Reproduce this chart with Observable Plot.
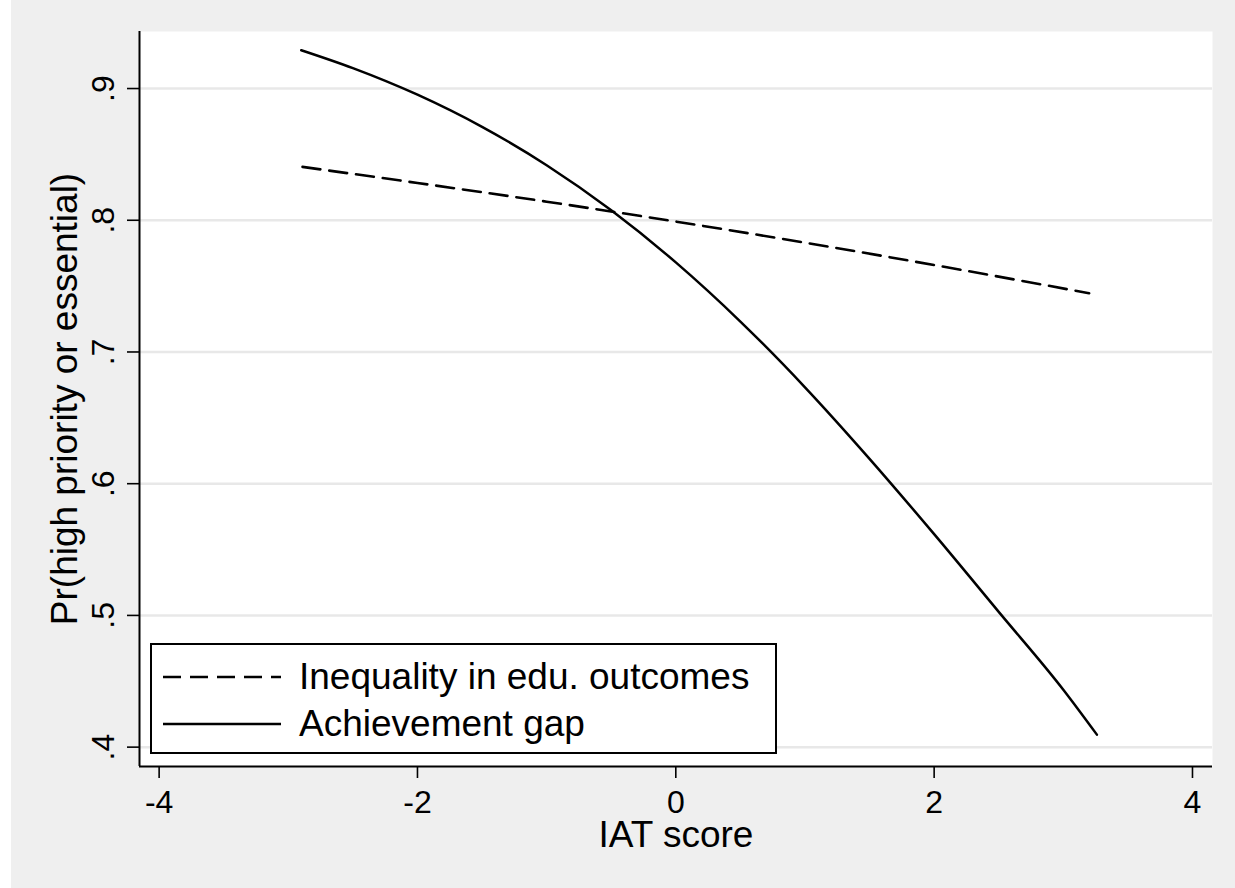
<!DOCTYPE html>
<html>
<head>
<meta charset="utf-8">
<script src="https://cdn.jsdelivr.net/npm/d3@7"></script>
<script src="https://cdn.jsdelivr.net/npm/@observablehq/plot@0.6"></script>
<style>
  html, body { margin: 0; padding: 0; background: #ffffff; }
  #wrap { position: relative; width: 1235px; height: 888px; font-family: "Liberation Sans", Arial, sans-serif; }
  #chart { position: absolute; left: 11px; top: 0; }
  #legend { position: absolute; left: 150px; top: 643px; width: 623px; height: 107px;
            border: 2px solid #000; background: #fff; }
  .row { position: absolute; left: 11px; height: 44px; display: flex; align-items: center; white-space: nowrap; }
  .row svg { width: 118px; height: 10px; margin-right: 18px; }
  .row span { font-size: 37px; color: #000; line-height: 44px; }
</style>
</head>
<body>
<div id="wrap">
  <div id="chart"></div>
  <div id="legend"></div>
</div>
<script>
// ---- data ----
const seriesNames = ["Inequality in edu. outcomes", "Achievement gap"];
const inequalityX = [-2.89, -2, -1, 0, 1, 2, 3.2];
const inequalityY = [0.8405, 0.8283, 0.8141, 0.7990, 0.7830, 0.7660, 0.7446];
const gapX = [-2.9, -2.5, -2, -1.5, -1, -0.5, 0, 0.5, 1, 1.5, 2, 2.5, 3, 3.26];
const gapY = [0.9291, 0.9155, 0.8953, 0.8709, 0.8418, 0.8076, 0.7680, 0.7231, 0.6732, 0.6189, 0.5617, 0.5027, 0.4436, 0.4095];
const xTicks = [-4, -2, 0, 2, 4];
const yTicks = [0.4, 0.5, 0.6, 0.7, 0.8, 0.9];
const xTitle = "IAT score";
const yTitle = "Pr(high priority or essential)";
const xDomain = [-4.152, 4.155];
const yDomain = [0.3853, 0.9433];

const ineqData = inequalityX.map((x, i) => ({x, y: inequalityY[i]}));
const gapData = gapX.map((x, i) => ({x, y: gapY[i]}));
const yFmt = d => d.toFixed(1).replace(/^0/, "");
const font = "Liberation Sans, Arial, sans-serif";

const chart = Plot.plot({
  width: 1224,
  height: 888,
  marginLeft: 128,
  marginRight: 23,
  marginTop: 31,
  marginBottom: 122,
  style: { background: "#efefef", fontFamily: font, color: "#000" },
  x: { domain: xDomain, axis: null },
  y: { domain: yDomain, axis: null },
  marks: [
    Plot.frame({ fill: "#ffffff", stroke: "none" }),
    Plot.ruleY(yTicks, { stroke: "#e8e8e8", strokeWidth: 2.5 }),
    Plot.axisX(xTicks, { tickSize: 12, tickFormat: () => "", stroke: "#000", strokeWidth: 1.6, label: null }),
    Plot.axisY(yTicks, { tickSize: 12, tickFormat: () => "", stroke: "#000", strokeWidth: 1.6, label: null }),
    Plot.text(xTicks, { x: d => d, frameAnchor: "bottom", dy: 36, text: d => String(d), fontSize: 32, fill: "#000", lineAnchor: "middle", textAnchor: "middle" }),
    Plot.text(yTicks, { y: d => d, frameAnchor: "left", dx: -36, rotate: -90, text: yFmt, fontSize: 32, fill: "#000", lineAnchor: "middle", textAnchor: "middle" }),
    Plot.text([xTitle], { frameAnchor: "bottom", dy: 69, text: d => d, fontSize: 37, fill: "#000", lineAnchor: "middle", textAnchor: "middle" }),
    Plot.text([yTitle], { frameAnchor: "left", dx: -74, rotate: -90, text: d => d, fontSize: 37, fill: "#000", lineAnchor: "middle", textAnchor: "middle" }),
    Plot.line(ineqData, { x: "x", y: "y", stroke: "#000", strokeWidth: 2.6, strokeDasharray: "18,9", curve: "monotone-x" }),
    Plot.line(gapData, { x: "x", y: "y", stroke: "#000", strokeWidth: 2.5, curve: "monotone-x" }),
    Plot.ruleX([xDomain[0]], { stroke: "#000", strokeWidth: 2 }),
    Plot.ruleY([yDomain[0]], { stroke: "#000", strokeWidth: 2 })
  ]
});
document.getElementById("chart").appendChild(chart);

// legend
const legend = document.getElementById("legend");
const dashes = ["18,9", null];
const rowTops = [10, 57];
seriesNames.forEach((name, i) => {
  const row = document.createElement("div");
  row.className = "row";
  row.style.top = rowTops[i] + "px";
  const dash = dashes[i] ? ` stroke-dasharray="${dashes[i]}"` : "";
  row.innerHTML = `<svg viewBox="0 0 118 10"><line x1="0" y1="5" x2="118" y2="5" stroke="#000" stroke-width="2.5"${dash}/></svg><span>${name}</span>`;
  legend.appendChild(row);
});
</script>
</body>
</html>
